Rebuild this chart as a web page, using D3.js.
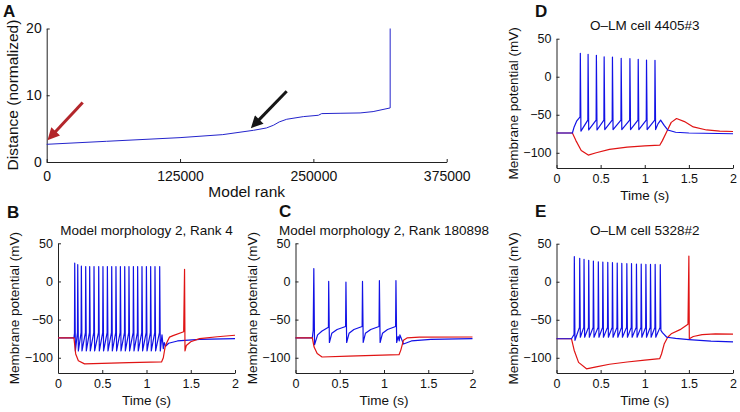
<!DOCTYPE html>
<html>
<head>
<meta charset="utf-8">
<script src="https://cdn.jsdelivr.net/npm/d3@7"></script>
<style>
  body { margin: 0; background: #fff; }
  text { font-family: "Liberation Sans", Arial, sans-serif; fill: #111; }
</style>
</head>
<body>
<svg id="fig" width="740" height="412"></svg>
<script>
// ---- panel A: distance vs model rank ----
const rankTicks = [0, 125000, 250000, 375000];
const distTicks = [0, 10, 20];
const modelRank = [0, 56000, 125000, 165000, 194000, 206000, 212500, 218000, 225000, 240600, 254700, 257800, 275000, 293800, 306000, 322000, 322000];
const distance  = [2.65, 3.1, 3.65, 4.1, 4.75, 5.1, 5.5, 6.0, 6.4, 6.8, 7.0, 7.25, 7.3, 7.35, 7.55, 8.1, 20];
// arrows: [rank, distance] of tail and tip
const redArrow = [[33750, 8.9], [1500, 3.4]];
const blackArrow = [[225000, 10.6], [192200, 5.2]];

// ---- voltage traces (time in s, membrane potential in mV) ----
const timeTicks = [0, 0.5, 1, 1.5, 2];
const vTicks = [-100, -50, 0, 50];

// B: model morphology 2, rank 4
const bBluePre = [[0, -74], [0.18, -74], [0.186, -68]];
const bSpikeT = [0.189, 0.223, 0.264, 0.313, 0.358, 0.407, 0.46, 0.508, 0.558, 0.607, 0.655, 0.705, 0.754, 0.802, 0.852, 0.9, 0.949, 0.999, 1.047, 1.096, 1.149];
const bSpikePeak = [24, 22, 20, 19.5, 19.5, 19.5, 19.5, 19.5, 19.5, 19.5, 19.5, 19.5, 19.5, 19.5, 19.5, 19.5, 19.5, 19.5, 19.5, 19.5, 19.5];
const bThresh = [-68, -67, -67, -67, -67, -67, -67, -67, -67, -67, -67, -67, -67, -67, -67, -67, -67, -67, -67, -67, -67];
const bTrough = [-91, -91, -91, -91, -91, -91, -91, -91, -91, -91, -91, -91, -91, -91, -91, -91, -91, -91, -91, -91, -91];
const bBluePost = [[1.175, -70], [1.19, -88], [1.2, -80], [1.215, -85], [1.25, -81], [1.35, -78], [1.6, -76], [2, -75]];
const bRed = [[0, -74], [0.18, -74], [0.2, -95], [0.23, -104], [0.3, -108], [0.5, -107.5], [0.8, -106.5], [1.17, -105.5], [1.19, -100], [1.21, -86], [1.23, -80], [1.26, -73], [1.3, -71], [1.42, -66], [1.43, 16], [1.435, -91], [1.45, -84], [1.5, -79], [1.6, -75], [1.8, -72.5], [2, -70.5]];

// C: model morphology 2, rank 180898
const cBlue = [[0, -74], [0.19, -74], [0.2, -64], [0.207, 17], [0.215, -83], [0.25, -70], [0.3, -65], [0.372, -60], [0.375, 0], [0.383, -80], [0.41, -68], [0.47, -63], [0.566, -59], [0.57, -1], [0.578, -80], [0.605, -68], [0.66, -63], [0.753, -59], [0.757, 0], [0.765, -80], [0.79, -68], [0.85, -63], [0.944, -59], [0.948, 1], [0.956, -80], [0.983, -68], [1.04, -63], [1.131, -59], [1.135, 1], [1.143, -80], [1.16, -72], [1.172, -78], [1.18, -70], [1.22, -82], [1.31, -78], [1.53, -76], [2, -75]];
const cRed = [[0, -74], [0.19, -74], [0.21, -86], [0.245, -94.5], [0.3, -99], [0.6, -98], [1.17, -96], [1.19, -90], [1.22, -77], [1.26, -74], [1.4, -73], [2, -72.8]];

// D: O-LM cell 4405#3
const dBluePre = [[0, -74], [0.18, -74], [0.2, -66], [0.23, -58], [0.265, -53]];
const dSpikeT = [0.27, 0.358, 0.452, 0.54, 0.634, 0.733, 0.832, 0.926, 1.02, 1.116];
const dSpikePeak = [30.8, 29.5, 28.2, 26.3, 25.9, 24.2, 23.7, 22.9, 22, 21.6];
const dThresh = [-53, -57, -57, -57, -57, -57, -57, -57, -57, -57];
const dTrough = [-71.5, -70, -70, -69.5, -69.5, -69.5, -69.5, -69.5, -69.5, -69.5];
const dBluePost = [[1.15, -62], [1.18, -57], [1.22, -64], [1.26, -70], [1.35, -73], [1.5, -74], [2, -75]];
const dRed = [[0, -74], [0.18, -74], [0.22, -84], [0.28, -97], [0.36, -103], [0.45, -100], [0.6, -95.5], [0.8, -92.5], [1, -91], [1.17, -90], [1.2, -84], [1.25, -72], [1.3, -60], [1.36, -55], [1.45, -59], [1.55, -66], [1.7, -70], [1.85, -71.5], [2, -72]];

// E: O-LM cell 5328#2
const eBluePre = [[0, -75], [0.17, -75], [0.195, -70]];
const eSpikeT = [0.202, 0.263, 0.312, 0.365, 0.418, 0.474, 0.525, 0.581, 0.634, 0.688, 0.74, 0.797, 0.85, 0.906, 0.96, 1.013, 1.065, 1.118, 1.176];
const eSpikePeak = [32.9, 30.8, 29.4, 28.1, 27.2, 26.3, 25.9, 25.4, 25, 24.6, 24.1, 23.7, 23.7, 23.2, 23.2, 22.8, 22.8, 22.8, 22.4];
const eThresh = [-70, -60, -60, -60, -60, -60, -60, -60, -60, -60, -60, -60, -60, -60, -60, -60, -60, -60, -60];
const eTrough = [-77, -73, -73, -73, -73, -73, -73, -73, -73, -73, -73, -73, -73, -73, -73, -73, -73, -73, -64];
const eBluePost = [[1.2, -67], [1.25, -73], [1.35, -74.5], [1.5, -76], [1.75, -78], [2, -79]];
const eRed = [[0, -75], [0.17, -75], [0.2, -90], [0.25, -106], [0.34, -114.5], [0.45, -112], [0.6, -108.5], [0.8, -105.5], [1, -103], [1.17, -101], [1.19, -95], [1.22, -82], [1.26, -73], [1.3, -68.5], [1.4, -63], [1.49, -56], [1.5, 33.8], [1.505, -75], [1.55, -72], [1.65, -69.5], [1.8, -68.5], [2, -69]];

// ---------------------------------------------------------------
const svg = d3.select("#fig");
const BLUE = "#1212e6", RED = "#e01414", AXIS = "#222";

// join pre / spikes / post into one point list
const spikeTrain = (pre, times, peaks, thresh, trough, post) => {
  const pts = pre.slice();
  times.forEach((t, i) => {
    pts.push([t - 0.003, thresh[i]], [t, peaks[i]], [t + 0.007, trough[i]]);
  });
  return pts.concat(post);
};

const drawAxes = (g, x, y, xTicks, yTicks, xFmt, yFmt, fontSize, padX) => {
  const xa = g.append("g")
    .attr("transform", `translate(0,${y.range()[0]})`)
    .call(d3.axisBottom(x).tickValues(xTicks).tickFormat(xFmt)
      .tickSizeInner(-3).tickSizeOuter(0).tickPadding(padX));
  const ya = g.append("g")
    .attr("transform", `translate(${x.range()[0]},0)`)
    .call(d3.axisLeft(y).tickValues(yTicks).tickFormat(yFmt)
      .tickSizeInner(-3).tickSizeOuter(0).tickPadding(5));
  [xa, ya].forEach(a => {
    a.select(".domain").attr("stroke", AXIS);
    a.selectAll(".tick line").attr("stroke", AXIS);
    a.selectAll("text").attr("font-size", fontSize).attr("fill", "#111")
      .attr("font-family", "'Liberation Sans', Arial, sans-serif");
  });
};

const panelLetter = (txt, x, y) => {
  svg.append("text").attr("x", x).attr("y", y).text(txt)
    .attr("font-size", 17).attr("font-weight", "bold");
};

// ---- panel A ----
{
  const x = d3.scaleLinear().domain([0, 375000]).range([46.7, 446.7]);
  const y = d3.scaleLinear().domain([0, 20]).range([162, 28.5]);
  const g = svg.append("g");
  drawAxes(g, x, y, rankTicks, distTicks, d3.format("d"), d3.format("d"), 14, 9.5);

  g.append("path")
    .datum(d3.zip(modelRank, distance))
    .attr("fill", "none").attr("stroke", "#2424cc").attr("stroke-width", 1)
    .attr("d", d3.line().x(d => x(d[0])).y(d => y(d[1])));

  const defs = svg.append("defs");
  [["headRed", "#b3262b"], ["headBlack", "#161616"]].forEach(([id, c]) => {
    defs.append("marker").attr("id", id)
      .attr("viewBox", "0 0 10 10").attr("refX", 9).attr("refY", 5)
      .attr("markerUnits", "userSpaceOnUse")
      .attr("markerWidth", 13).attr("markerHeight", 12).attr("orient", "auto")
      .append("path").attr("d", "M0,0 L10,5 L0,10 Z").attr("fill", c);
  });
  [[redArrow, "#b3262b", "headRed"], [blackArrow, "#161616", "headBlack"]].forEach(([a, c, m]) => {
    const [x0, y0] = [x(a[0][0]), y(a[0][1])];
    const [x1, y1] = [x(a[1][0]), y(a[1][1])];
    const len = Math.hypot(x1 - x0, y1 - y0);
    // stop the shaft before the tip so the head stays sharp
    const k = (len - 9) / len;
    g.append("line")
      .attr("x1", x0).attr("y1", y0)
      .attr("x2", x0 + (x1 - x0) * k).attr("y2", y0 + (y1 - y0) * k)
      .attr("stroke", c).attr("stroke-width", 3);
    g.append("path")
      .attr("d", `M${x0 + (x1 - x0) * k},${y0 + (y1 - y0) * k} L${x1},${y1}`)
      .attr("stroke", "none").attr("marker-end", `url(#${m})`);
  });

  g.append("text").attr("x", 246.7).attr("y", 197).attr("text-anchor", "middle")
    .attr("font-size", 15.5).text("Model rank");
  g.append("text").attr("transform", "translate(18,95) rotate(-90)")
    .attr("text-anchor", "middle").attr("font-size", 15.5).text("Distance (normalized)");
  panelLetter("A", 3, 17);
}

// ---- panels B–E ----
const panels = [
  { letter: "B", lx: 7, ly: 218, title: "Model morphology 2, Rank 4",
    xr: [58, 235], yr: [373, 243.3],
    blue: spikeTrain(bBluePre, bSpikeT, bSpikePeak, bThresh, bTrough, bBluePost), red: bRed, redTop: true },
  { letter: "C", lx: 279, ly: 217, title: "Model morphology 2, Rank 180898",
    xr: [295.5, 472.5], yr: [373, 243.3],
    blue: cBlue, red: cRed, redTop: true },
  { letter: "D", lx: 535, ly: 17, title: "O\u2013LM cell 4405#3",
    xr: [556.5, 733], yr: [168, 38.7],
    blue: spikeTrain(dBluePre, dSpikeT, dSpikePeak, dThresh, dTrough, dBluePost), red: dRed, redTop: false },
  { letter: "E", lx: 535, ly: 217, title: "O\u2013LM cell 5328#2",
    xr: [556.5, 733], yr: [373, 243.7],
    blue: spikeTrain(eBluePre, eSpikeT, eSpikePeak, eThresh, eTrough, eBluePost), red: eRed, redTop: false }
];

const tFmt = d => d3.format("~g")(d);
const vFmt = d => d < 0 ? "\u2212" + Math.abs(d) : String(d);

panels.forEach(p => {
  const x = d3.scaleLinear().domain([0, 2]).range(p.xr);
  const y = d3.scaleLinear().domain([-120, 50]).range(p.yr);
  const g = svg.append("g");
  drawAxes(g, x, y, timeTicks, vTicks, tFmt, vFmt, 12.5, 6);

  const line = d3.line().x(d => x(d[0])).y(d => y(d[1]));
  const order = p.redTop ? [[p.blue, BLUE], [p.red, RED]] : [[p.red, RED], [p.blue, BLUE]];
  order.forEach(([pts, c]) => {
    g.append("path").datum(pts)
      .attr("fill", "none").attr("stroke", c).attr("stroke-width", 1.2)
      .attr("stroke-linejoin", "round")
      .attr("d", line);
  });

  const cx = (p.xr[0] + p.xr[1]) / 2;
  const cy = (p.yr[0] + p.yr[1]) / 2;
  g.append("text").attr("x", cx).attr("y", p.yr[1] - 8.5).attr("text-anchor", "middle")
    .attr("font-size", 13.5).text(p.title);
  g.append("text").attr("x", cx).attr("y", p.yr[0] + 32).attr("text-anchor", "middle")
    .attr("font-size", 13.5).text("Time (s)");
  g.append("text").attr("transform", `translate(${p.xr[0] - 39},${cy}) rotate(-90)`)
    .attr("text-anchor", "middle").attr("font-size", 13.5).text("Membrane potential (mV)");
  panelLetter(p.letter, p.lx, p.ly);
});
</script>
</body>
</html>
